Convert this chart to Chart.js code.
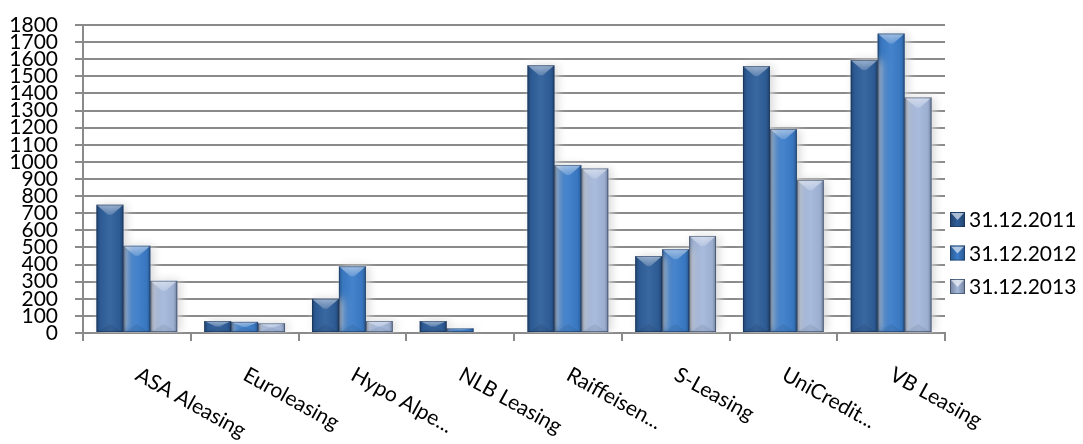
<!DOCTYPE html>
<html>
<head>
<meta charset="utf-8">
<script src="https://cdn.jsdelivr.net/npm/chart.js@4/dist/chart.umd.min.js"></script>
<style>
    html, body { margin: 0; padding: 0; background: #fff; }
    #contenedor { width: 1083px; height: 444px; }
</style>
</head>
<body>
<div id="contenedor"><canvas id="graficaBarras"></canvas></div>
<script>
// Datos
var categorias = ["ASA Aleasing", "Euroleasing", "Hypo Alpe...", "NLB Leasing", "Raiffeisen...", "S-Leasing", "UniCredit...", "VB Leasing"];
var serie2011 = [750, 70, 200, 70, 1565, 450, 1560, 1595];
var serie2012 = [510, 65, 390, 27, 982, 490, 1192, 1750];
var serie2013 = [305, 57, 70, 0, 962, 567, 894, 1377];
var nombresSeries = ["31.12.2011", "31.12.2012", "31.12.2013"];
var ejeYMin = 0;
var ejeYMax = 1800;
var ejeYPaso = 100;

var coloresSeries = ['#2f5f9b', '#3b7dca', '#a4b8dc'];
var gris = '#8a8a8a';

Chart.defaults.font.family = 'Lato';
Chart.defaults.font.size = 21;
Chart.defaults.color = '#000';

// Sombra suave alrededor de las barras y efecto de bisel encima
var biselBarras = {
    id: 'biselBarras',
    beforeDatasetsDraw: function (chart) {
        var ctx = chart.ctx;
        ctx.save();
        ctx.shadowColor = 'rgba(215, 215, 215, 1)';
        ctx.shadowBlur = 10;
        ctx.shadowOffsetX = 3;
        ctx.shadowOffsetY = 0;
    },
    afterDatasetsDraw: function (chart) {
        var ctx = chart.ctx;
        ctx.restore();
        ctx.save();
        chart.data.datasets.forEach(function (ds, d) {
            var meta = chart.getDatasetMeta(d);
            meta.data.forEach(function (barra) {
                var izq = barra.x - barra.width / 2;
                var der = barra.x + barra.width / 2;
                var arriba = barra.y;
                var base = barra.base;
                var alto = base - arriba;
                if (alto < 1) return;

                // bordes laterales más oscuros
                var grad = ctx.createLinearGradient(izq, 0, der, 0);
                grad.addColorStop(0, 'rgba(0,0,0,0.30)');
                grad.addColorStop(0.14, 'rgba(0,0,0,0.05)');
                grad.addColorStop(0.5, 'rgba(255,255,255,0.05)');
                grad.addColorStop(0.86, 'rgba(0,0,0,0.05)');
                grad.addColorStop(1, 'rgba(0,0,0,0.30)');
                ctx.fillStyle = grad;
                ctx.fillRect(izq, arriba, der - izq, alto);

                // bisel superior (franja clara que se estrecha)
                var hb = Math.min(10, alto / 2);
                var gradTop = ctx.createLinearGradient(0, arriba, 0, arriba + hb);
                gradTop.addColorStop(0, 'rgba(255,255,255,0.50)');
                gradTop.addColorStop(1, 'rgba(255,255,255,0.18)');
                ctx.fillStyle = gradTop;
                ctx.beginPath();
                ctx.moveTo(izq, arriba);
                ctx.lineTo(der, arriba);
                ctx.lineTo(barra.x + 2, arriba + hb);
                ctx.lineTo(barra.x - 2, arriba + hb);
                ctx.closePath();
                ctx.fill();

                // bisel inferior
                var hi = Math.min(8, alto / 2);
                ctx.fillStyle = 'rgba(0,0,0,0.07)';
                ctx.beginPath();
                ctx.moveTo(izq + 1, base);
                ctx.lineTo(der - 1, base);
                ctx.lineTo(barra.x, base - hi);
                ctx.closePath();
                ctx.fill();

                // contorno
                ctx.strokeStyle = 'rgba(20,40,70,0.45)';
                ctx.lineWidth = 1;
                ctx.strokeRect(izq + 0.5, arriba + 0.5, der - izq - 1, alto - 1);
            });
        });
        ctx.restore();
    }
};

// Etiquetas del eje X giradas hacia abajo
var etiquetasX = {
    id: 'etiquetasX',
    afterDraw: function (chart) {
        var ctx = chart.ctx;
        var escalaX = chart.scales.x;
        ctx.save();
        ctx.font = '21px Lato';
        ctx.fillStyle = '#000';
        ctx.textAlign = 'left';
        ctx.textBaseline = 'alphabetic';
        categorias.forEach(function (cat, i) {
            var x = escalaX.getPixelForValue(i);
            ctx.save();
            ctx.translate(x - 3, escalaX.bottom + 38);
            ctx.rotate(29 * Math.PI / 180);
            ctx.fillText(cat, 0, 0);
            ctx.restore();
        });
        ctx.restore();
    }
};

// Leyenda a la derecha
var leyenda = {
    id: 'leyenda',
    afterDraw: function (chart) {
        var ctx = chart.ctx;
        var x0 = chart.chartArea.right + 5;
        ctx.save();
        ctx.font = '21px Lato';
        ctx.textBaseline = 'middle';
        ctx.textAlign = 'left';
        nombresSeries.forEach(function (txt, i) {
            var yc = 219.5 + i * 33.5;
            var top = yc - 7.5;
            ctx.fillStyle = coloresSeries[i];
            ctx.fillRect(x0, top, 15, 15);
            var g = ctx.createLinearGradient(x0, 0, x0 + 15, 0);
            g.addColorStop(0, 'rgba(0,0,0,0.3)');
            g.addColorStop(0.5, 'rgba(0,0,0,0)');
            g.addColorStop(1, 'rgba(0,0,0,0.3)');
            ctx.fillStyle = g;
            ctx.fillRect(x0, top, 15, 15);
            ctx.fillStyle = 'rgba(255,255,255,0.6)';
            ctx.beginPath();
            ctx.moveTo(x0 + 1, top + 1);
            ctx.lineTo(x0 + 14, top + 1);
            ctx.lineTo(x0 + 7.5, top + 8);
            ctx.closePath();
            ctx.fill();
            ctx.strokeStyle = 'rgba(20,40,70,0.5)';
            ctx.lineWidth = 1;
            ctx.strokeRect(x0 + 0.5, top + 0.5, 14, 14);
            ctx.fillStyle = '#000';
            ctx.fillText(txt, x0 + 19, yc + 1);
        });
        ctx.restore();
    }
};

var datos = {
    labels: categorias,
    datasets: [
        { label: nombresSeries[0], data: serie2011, backgroundColor: coloresSeries[0] },
        { label: nombresSeries[1], data: serie2012, backgroundColor: coloresSeries[1] },
        { label: nombresSeries[2], data: serie2013, backgroundColor: coloresSeries[2] }
    ]
};

var opciones = {
    responsive: true,
    maintainAspectRatio: false,
    animation: false,
    datasets: {
        bar: { categoryPercentage: 0.75, barPercentage: 1, borderWidth: 0 }
    },
    layout: { padding: { left: 10, right: 138, top: 25, bottom: 103 } },
    plugins: {
        legend: { display: false },
        tooltip: { enabled: false }
    },
    scales: {
        x: {
            ticks: { display: false },
            grid: { offset: true, drawOnChartArea: false, drawTicks: true, tickLength: 8, color: gris, lineWidth: 2 },
            border: { color: gris, width: 2 },
            afterFit: function (escala) {
                escala.height = 8;
                escala.paddingLeft = 0;
                escala.paddingRight = 0;
            }
        },
        y: {
            min: ejeYMin,
            max: ejeYMax,
            ticks: {
                stepSize: ejeYPaso,
                autoSkip: false,
                padding: 17,
                font: { size: 21 },
                callback: function (valor) { return String(valor); }
            },
            grid: { color: gris, lineWidth: 2, tickLength: 8 },
            border: { color: gris, width: 2 },
            afterFit: function (escala) {
                escala.width = 73;
                escala.paddingTop = 0;
                escala.paddingBottom = 0;
            }
        }
    }
};

var ctx = document.getElementById('graficaBarras').getContext('2d');
var graficaBarras = new Chart(ctx, {
    type: 'bar',
    data: datos,
    options: opciones,
    plugins: [biselBarras, etiquetasX, leyenda]
});
</script>
</body>
</html>
